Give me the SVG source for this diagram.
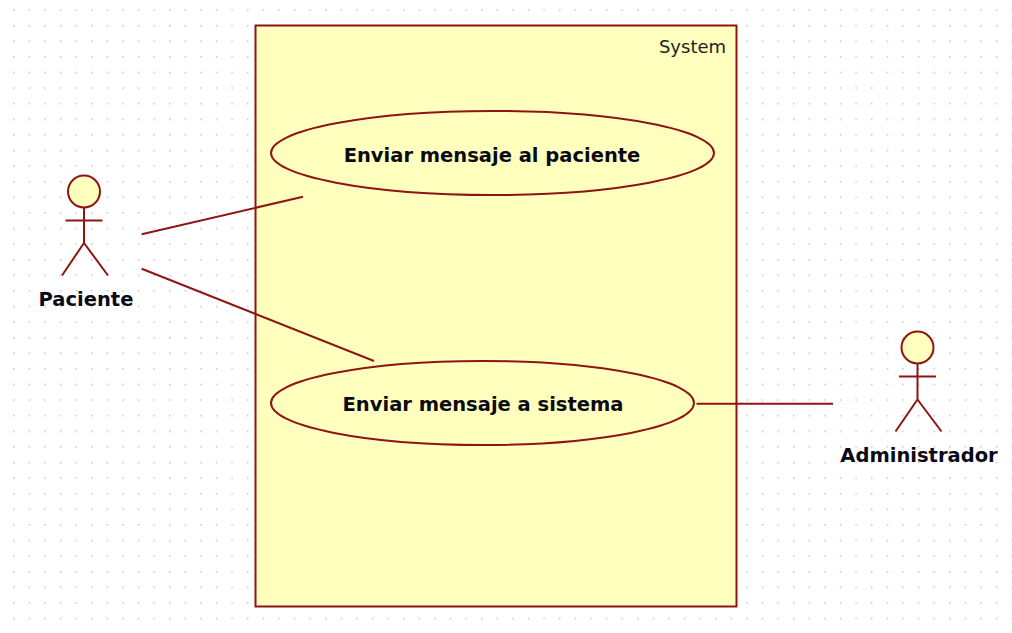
<svg xmlns="http://www.w3.org/2000/svg" width="1012" height="633" viewBox="0 0 1012 633">
<style>
.a{fill:#ffffbe;stroke:#8f1414;stroke-width:2}
.c{fill:none;stroke:#8f1414;stroke-width:2}
.t{font-family:"DejaVu Sans",sans-serif;font-size:19.500px;font-weight:bold;fill:#0a0a14;text-anchor:middle}
</style>
<defs><pattern id="g" width="15.6" height="15.6" patternUnits="userSpaceOnUse" x="13" y="9.300"><rect width="1.500" height="1.500" fill="#c4c4c4"/></pattern></defs>
<rect width="1012" height="633" fill="#fff"/>
<rect width="1012" height="633" fill="url(#g)"/>
<g id="system"><rect x="255.500" y="25.500" width="481" height="581" fill="#ffffbe" stroke="#8f1414" stroke-width="2"/>
<text x="692.500" y="53" font-family="DejaVu Sans, sans-serif" font-size="18" fill="#222" text-anchor="middle">System</text></g>
<g id="uc1"><ellipse class="a" cx="492.500" cy="153" rx="221.500" ry="42"/><text class="t" x="492" y="162">Enviar mensaje al paciente</text></g>
<g id="uc2"><ellipse class="a" cx="482.500" cy="403" rx="211.500" ry="42"/><text class="t" x="483" y="411">Enviar mensaje a sistema</text></g>
<g id="paciente"><circle class="a" cx="84" cy="191.500" r="16"/><path class="c" d="M84 207.500V243M65.500 220.500H102.500M84 243L62 275.500M84 243L108 275.500"/><text class="t" x="86" y="306">Paciente</text></g>
<g id="administrador"><circle class="a" cx="917.500" cy="347.500" r="16"/><path class="c" d="M917.500 363.500V399.500M899 376.500H936M917.500 399.500L895.500 431.500M917.500 399.500L941.500 431.500"/><text class="t" x="919" y="462">Administrador</text></g>
<g id="connectors"><path class="c" d="M141.700 234.300L303 196.700M141.700 268.700L374 361M696.500 403.700H833"/></g>
</svg>
